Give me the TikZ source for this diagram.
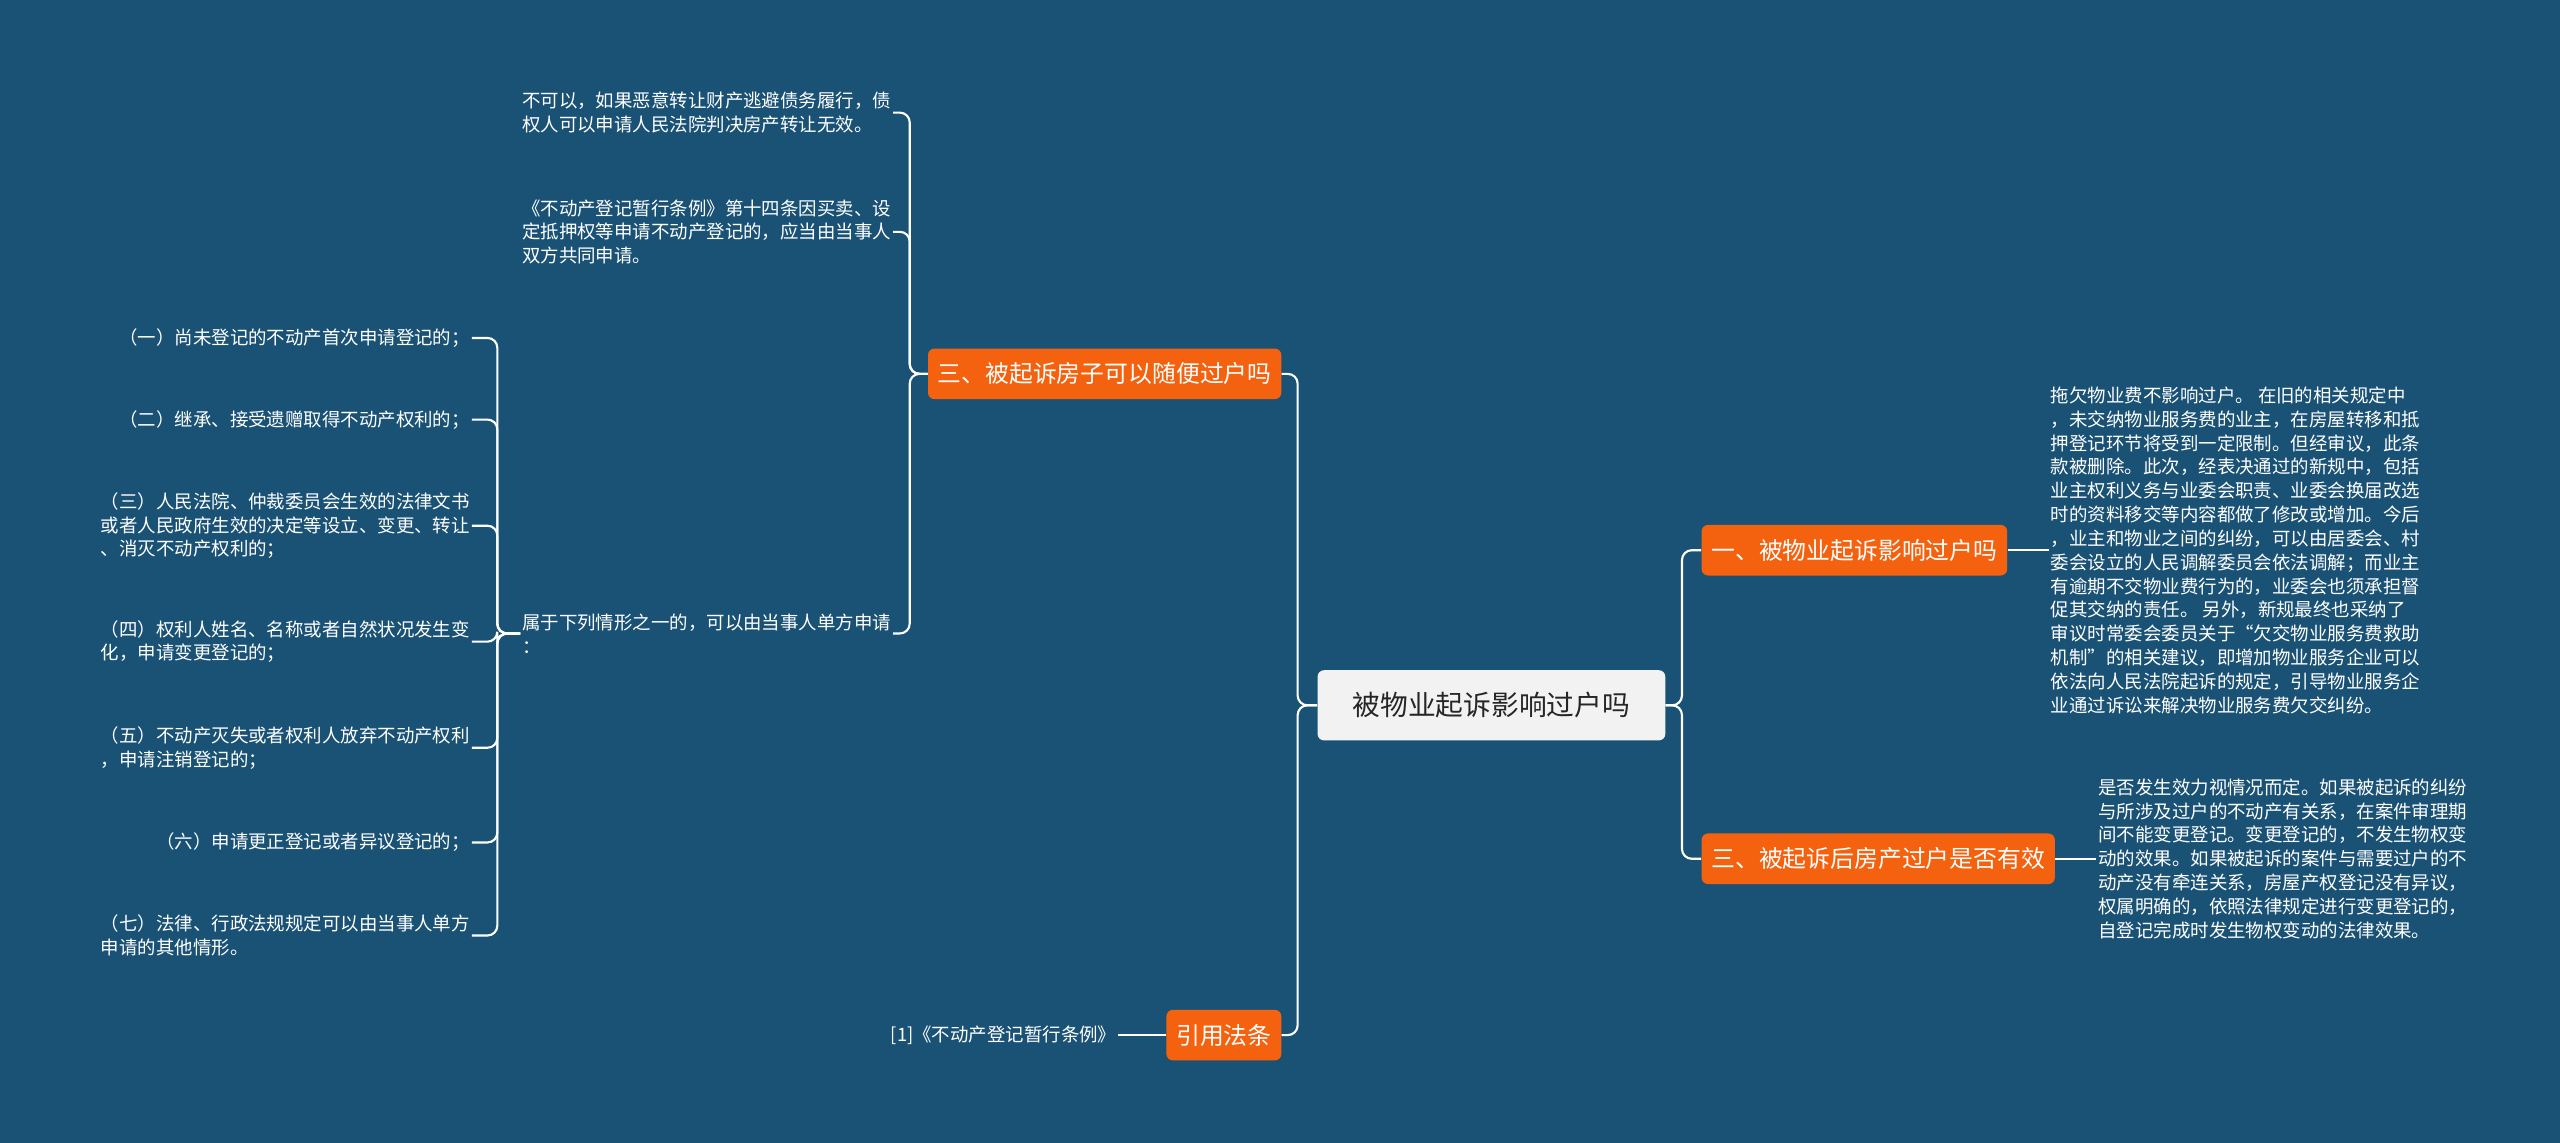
\documentclass[tikz,border=0pt]{standalone}
\usepackage{fontspec}
\setmainfont{Noto Sans CJK SC}
\usetikzlibrary{positioning}
\definecolor{bgblue}{HTML}{1A5276}
\definecolor{topicorange}{HTML}{F5620F}
\definecolor{rootgray}{HTML}{F2F2F2}

\begin{document}
\begin{tikzpicture}[x=1pt, y=-1pt,
  root/.style={rectangle, fill=rootgray, rounded corners=4pt, minimum width=213pt, minimum height=43pt, font=\fontsize{17}{20}\selectfont, text=black!85},
  topic/.style={rectangle, fill=topicorange, rounded corners=4pt, minimum height=31pt, inner xsep=6pt, font=\fontsize{14.6}{17}\selectfont, text=white},
  leaf/.style={font=\fontsize{11.3}{14.6}\selectfont, text=white, inner sep=1pt, align=left},
  link/.style={draw=white, line width=1.3pt, rounded corners=6pt}
]
  \fill[bgblue] (0,0) rectangle (1568,700);
  \useasboundingbox (0,0) rectangle (1568,700);

  % Root and topics
  \node[root] (root) at (913.5, 432) {被物业起诉影响过户吗};
  \node[topic, anchor=east] (free) at (785, 229) {三、被起诉房子可以随便过户吗};
  \node[topic, anchor=east] (law) at (785, 634) {引用法条};
  \node[topic, anchor=west] (fee) at (1042, 337) {一、被物业起诉影响过户吗};
  \node[topic, anchor=west] (valid) at (1042, 526) {三、被起诉后房产过户是否有效};

  % Leaves of the left topic
  \node[leaf, anchor=east] (no) at (547, 69) {不可以，如果恶意转让财产逃避债务履行，债\\权人可以申请人民法院判决房产转让无效。};
  \node[leaf, anchor=east] (reg) at (547, 142) {《不动产登记暂行条例》第十四条因买卖、设\\定抵押权等申请不动产登记的，应当由当事人\\双方共同申请。};
  \node[leaf, anchor=east] (one) at (547, 388) {属于下列情形之一的，可以由当事人单方申请\\：};

  % Cases
  \node[leaf, anchor=east] (c1) at (289, 207) {（一）尚未登记的不动产首次申请登记的；};
  \node[leaf, anchor=east] (c2) at (289, 257) {（二）继承、接受遗赠取得不动产权利的；};
  \node[leaf, anchor=east] (c3) at (289, 322) {（三）人民法院、仲裁委员会生效的法律文书\\或者人民政府生效的决定等设立、变更、转让\\、消灭不动产权利的；};
  \node[leaf, anchor=east] (c4) at (289, 393) {（四）权利人姓名、名称或者自然状况发生变\\化，申请变更登记的；};
  \node[leaf, anchor=east] (c5) at (289, 458) {（五）不动产灭失或者权利人放弃不动产权利\\，申请注销登记的；};
  \node[leaf, anchor=east] (c6) at (289, 516) {（六）申请更正登记或者异议登记的；};
  \node[leaf, anchor=east] (c7) at (289, 573) {（七）法律、行政法规规定可以由当事人单方\\申请的其他情形。};

  % Right leaves
  \node[leaf, anchor=west] (feetxt) at (1255, 337) {拖欠物业费不影响过户。 在旧的相关规定中\\，未交纳物业服务费的业主，在房屋转移和抵\\押登记环节将受到一定限制。但经审议，此条\\款被删除。此次，经表决通过的新规中，包括\\业主权利义务与业委会职责、业委会换届改选\\时的资料移交等内容都做了修改或增加。今后\\，业主和物业之间的纠纷，可以由居委会、村\\委会设立的人民调解委员会依法调解；而业主\\有逾期不交物业费行为的，业委会也须承担督\\促其交纳的责任。 另外，新规最终也采纳了\\审议时常委会委员关于“欠交物业服务费救助\\机制”的相关建议，即增加物业服务企业可以\\依法向人民法院起诉的规定，引导物业服务企\\业通过诉讼来解决物业服务费欠交纠纷。};
  \node[leaf, anchor=west] (validtxt) at (1284, 526) {是否发生效力视情况而定。如果被起诉的纠纷\\与所涉及过户的不动产有关系，在案件审理期\\间不能变更登记。变更登记的，不发生物权变\\动的效果。如果被起诉的案件与需要过户的不\\动产没有牵连关系，房屋产权登记没有异议，\\权属明确的，依照法律规定进行变更登记的，\\自登记完成时发生物权变动的法律效果。};
  \node[leaf, anchor=east] (ref) at (685, 634) {[1]《不动产登记暂行条例》};

  % Links
  \foreach \t in {free, law} \draw[link] (root.west) -- ++(-12,0) |- (\t.east);
  \foreach \t in {fee, valid} \draw[link] (root.east) -- ++(10,0) |- (\t.west);
  \foreach \t in {no, reg, one} \draw[link] (free.west) -- ++(-11,0) |- (\t.east);
  \foreach \t in {c1, c2, c3, c4, c5, c6, c7} \draw[link] (one.west) -- ++(-14,0) |- (\t.east);
  \draw[link] (fee.east) -- (feetxt.west);
  \draw[link] (valid.east) -- (validtxt.west);
  \draw[link] (law.west) -- (ref.east);
\end{tikzpicture}
\end{document}
